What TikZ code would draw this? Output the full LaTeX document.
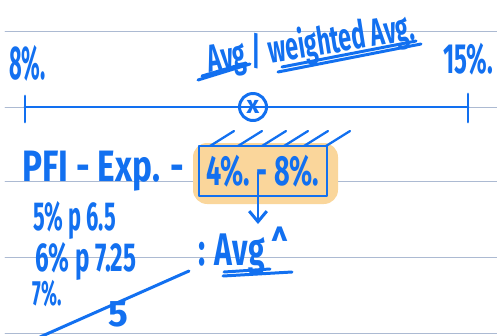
\documentclass[tikz,border=0pt]{standalone}
\usepackage{fontspec}
\setsansfont{Fira Sans}
\usetikzlibrary{positioning,arrows.meta}
\definecolor{ink}{RGB}{18,112,240}
\definecolor{ruleline}{RGB}{172,186,210}
\definecolor{hilite}{RGB}{250,214,155}
\newcommand{\inksize}[1]{\fontsize{#1}{#1}\selectfont}

\begin{document}
\begin{tikzpicture}[x=0.02cm, y=-0.02cm, line cap=round, line join=round,
    hand/.style={text=ink, inner sep=0pt, font=\sffamily\bfseries\inksize{20}},
    pen/.style={draw=ink, line width=1.7pt},
    ruling/.style={draw=ruleline, line width=0.5pt}]
  \useasboundingbox (0,0) rectangle (497,335);
  % ruled paper, one line every 75 px
  \foreach \ry in {31,107,181,257,333}
    \draw[ruling] (5,\ry) -- (497,\ry);
  % number line from 8% to 15%
  \coordinate (lo) at (25,107);
  \coordinate (hi) at (468,107);
  \draw[pen] (lo) -- (hi);
  \draw[pen] (lo) ++(0,-11) -- ++(0,26);
  \draw[pen] (hi) ++(0,-13) -- ++(0,28);
  \node[pen, circle, minimum size={27*0.02cm}, hand] (mid) at (253,107) {\inksize{14}x};
  \node[hand, anchor=base west, font=\sffamily\bfseries\inksize{27}, xscale=0.46] (lowpct) at (9,79) {8\%.};
  \node[hand, anchor=base west, font=\sffamily\bfseries\inksize{24}, xscale=0.57] (highpct) at (443,73) {15\%.};
  % heading, slanting up to the right
  \node[hand, rotate=9, font=\sffamily\bfseries\inksize{22}, xscale=0.6] (title) at (311,45) {Avg / weighted Avg.};
  \draw[pen] (198,80) -- (250,64) (202,76) -- (246,63);
  \draw[pen] (278,72) -- (421,44) (282,67) -- (416,41);
  % range box
  \fill[hilite, rounded corners=8pt] (193,143) rectangle (338,204);
  \node[hand, anchor=base west, font=\sffamily\bfseries\inksize{25}, xscale=0.76] (pfi) at (22,181) {PFI - Exp. -};
  \node[pen, hand, minimum width={128*0.02cm}, minimum height={50*0.02cm}] (box) at (263,171)
    {\inksize{24}\scalebox{0.64}[1]{4\%.\ - 8\%.}};
  \foreach \hx in {210,238,262,284,304,326}
    \draw[pen, line width=1.3pt] (\hx,146) -- ++(24,-15);
  \coordinate (tip) at (258,224);
  \draw[pen, -{Straight Barb[length=6pt,width=10pt]}] (box.center) ++(-5,2) -- (tip);
  % examples
  \node[hand, anchor=base west, font=\sffamily\bfseries\inksize{23}, xscale=0.54] (ex1) at (33,230) {5\% p 6.5};
  \node[hand, anchor=base west, font=\sffamily\bfseries\inksize{23}, xscale=0.6] (ex2) at (35,271) {6\% p 7.25};
  \node[hand, anchor=base west, xscale=0.53] (ex3) at (32,305) {7\%.};
  \node[hand, anchor=base west, font=\sffamily\bfseries\inksize{21}] (five) at (108,326) {5};
  \coordinate (sa) at (40,337);
  \coordinate (sb) at (189,271);
  \draw[pen] (sa) -- (sb);
  \node[hand, anchor=base west, font=\sffamily\bfseries\inksize{26}, xscale=0.66] (avg) at (198,265) {: Avg \textasciicircum};
  \draw[pen] (223,276) -- (292,272) (224,272) -- (270,269);
\end{tikzpicture}
\end{document}
